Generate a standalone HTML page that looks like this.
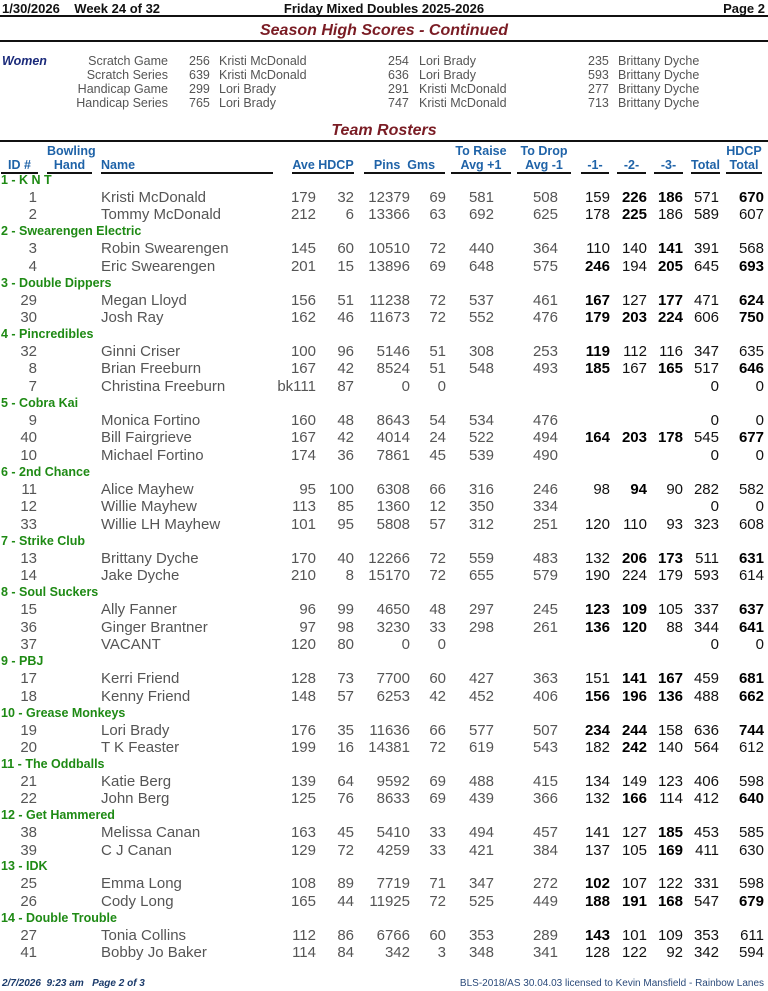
<!DOCTYPE html>
<html><head><meta charset="utf-8">
<style>
*{margin:0;padding:0;box-sizing:border-box}
body{width:768px;height:991px;background:#fff;position:relative;overflow:hidden;font-family:"Liberation Sans",sans-serif}
.a{position:absolute;white-space:nowrap}
.n{font-family:"Liberation Sans Narrow","Liberation Sans",sans-serif}
.hl{position:absolute;height:2px;background:#111}
.t{font-weight:bold;font-style:italic;color:#7a1c24;font-size:16px;width:768px;text-align:center}
.w{font-size:12.5px;color:#555;line-height:14px}
.h{font-family:"Liberation Sans Narrow","Liberation Sans",sans-serif;font-weight:bold;color:#1f63a8;font-size:12.5px;line-height:14px;text-align:center}
.ul{position:absolute;top:172px;height:2px;background:#111}
.tm{position:absolute;left:1px;font-weight:bold;color:#1e8a14;font-size:12.5px;font-family:"Liberation Sans Narrow","Liberation Sans",sans-serif;height:17px;line-height:17px}
.r{position:absolute;left:0;width:768px;height:17px;line-height:17px;font-size:15px;color:#555}
.r span{position:absolute;top:0;left:0;text-align:right}
.r .nm{left:101px;text-align:left}
.r .g{color:#111}
.r b{color:#000}
</style></head><body>
<div class="a n" style="left:2px;top:1px;font-size:13px;font-weight:bold;color:#111">1/30/2026&nbsp;&nbsp;&nbsp;&nbsp;Week 24 of 32</div>
<div class="a n" style="left:0;width:768px;text-align:center;top:1px;font-size:13px;font-weight:bold;color:#111">Friday Mixed Doubles 2025-2026</div>
<div class="a n" style="right:3px;top:1px;font-size:13px;font-weight:bold;color:#111">Page 2</div>
<div class="hl" style="left:0;width:768px;top:15px"></div>
<div class="a t n" style="top:22px">Season High Scores - Continued</div>
<div class="hl" style="left:0;width:768px;top:40px"></div>

<div class="a n" style="left:2px;top:54px;font-size:12.5px;font-weight:bold;font-style:italic;color:#1a2a7a">Women</div>
<div class="a w" style="left:0;width:168px;text-align:right;top:54px">Scratch Game<br>Scratch Series<br>Handicap Game<br>Handicap Series</div>
<div class="a w" style="left:189px;top:54px">256<br>639<br>299<br>765</div>
<div class="a w" style="left:219px;top:54px">Kristi McDonald<br>Kristi McDonald<br>Lori Brady<br>Lori Brady</div>
<div class="a w" style="left:388px;top:54px">254<br>636<br>291<br>747</div>
<div class="a w" style="left:419px;top:54px">Lori Brady<br>Lori Brady<br>Kristi McDonald<br>Kristi McDonald</div>
<div class="a w" style="left:588px;top:54px">235<br>593<br>277<br>713</div>
<div class="a w" style="left:618px;top:54px">Brittany Dyche<br>Brittany Dyche<br>Brittany Dyche<br>Brittany Dyche</div>

<div class="a t n" style="top:122px">Team Rosters</div>
<div class="hl" style="left:0;width:768px;top:140px"></div>

<div class="a h" style="left:1px;width:37px;top:158px">ID #</div>
<div class="a h" style="left:47px;width:45px;top:144px">Bowling<br>Hand</div>
<div class="a h" style="left:101px;top:158px;text-align:left">Name</div>
<div class="a h" style="left:292px;width:62px;top:158px">Ave HDCP</div>
<div class="a h" style="left:364px;width:81px;top:158px">Pins&nbsp; Gms</div>
<div class="a h" style="left:451px;width:60px;top:144px">To Raise<br>Avg +1</div>
<div class="a h" style="left:517px;width:54px;top:144px">To Drop<br>Avg -1</div>
<div class="a h" style="left:581px;width:28px;top:158px">-1-</div>
<div class="a h" style="left:617px;width:29px;top:158px">-2-</div>
<div class="a h" style="left:654px;width:29px;top:158px">-3-</div>
<div class="a h" style="left:691px;width:29px;top:158px">Total</div>
<div class="a h" style="left:726px;width:36px;top:144px">HDCP<br>Total</div>
<div class="ul" style="left:1px;width:37px"></div>
<div class="ul" style="left:47px;width:45px"></div>
<div class="ul" style="left:101px;width:172px"></div>
<div class="ul" style="left:292px;width:62px"></div>
<div class="ul" style="left:364px;width:81px"></div>
<div class="ul" style="left:451px;width:60px"></div>
<div class="ul" style="left:517px;width:54px"></div>
<div class="ul" style="left:581px;width:28px"></div>
<div class="ul" style="left:617px;width:29px"></div>
<div class="ul" style="left:654px;width:29px"></div>
<div class="ul" style="left:691px;width:29px"></div>
<div class="ul" style="left:726px;width:36px"></div>

<style>
.c0{width:37px}.c2{width:316px}.c3{width:354px}.c4{width:410px}.c5{width:446px}.c6{width:494px}.c7{width:558px}
.c8{width:610px}.c9{width:647px}.c10{width:683px}.c11{width:719px}.c12{width:764px}
</style>

<div class="tm" style="top:172px">1 - K N T</div>
<div class="r" style="top:189px"><span class="c0">1</span><span class="nm">Kristi McDonald</span><span class="c2">179</span><span class="c3">32</span><span class="c4">12379</span><span class="c5">69</span><span class="c6">581</span><span class="c7">508</span><span class="c8 g">159</span><span class="c9"><b>226</b></span><span class="c10"><b>186</b></span><span class="c11 g">571</span><span class="c12"><b>670</b></span></div>
<div class="r" style="top:206px"><span class="c0">2</span><span class="nm">Tommy McDonald</span><span class="c2">212</span><span class="c3">6</span><span class="c4">13366</span><span class="c5">63</span><span class="c6">692</span><span class="c7">625</span><span class="c8 g">178</span><span class="c9"><b>225</b></span><span class="c10 g">186</span><span class="c11 g">589</span><span class="c12 g">607</span></div>

<div class="tm" style="top:223px">2 - Swearengen Electric</div>
<div class="r" style="top:240px"><span class="c0">3</span><span class="nm">Robin Swearengen</span><span class="c2">145</span><span class="c3">60</span><span class="c4">10510</span><span class="c5">72</span><span class="c6">440</span><span class="c7">364</span><span class="c8 g">110</span><span class="c9 g">140</span><span class="c10"><b>141</b></span><span class="c11 g">391</span><span class="c12 g">568</span></div>
<div class="r" style="top:258px"><span class="c0">4</span><span class="nm">Eric Swearengen</span><span class="c2">201</span><span class="c3">15</span><span class="c4">13896</span><span class="c5">69</span><span class="c6">648</span><span class="c7">575</span><span class="c8"><b>246</b></span><span class="c9 g">194</span><span class="c10"><b>205</b></span><span class="c11 g">645</span><span class="c12"><b>693</b></span></div>

<div class="tm" style="top:275px">3 - Double Dippers</div>
<div class="r" style="top:292px"><span class="c0">29</span><span class="nm">Megan Lloyd</span><span class="c2">156</span><span class="c3">51</span><span class="c4">11238</span><span class="c5">72</span><span class="c6">537</span><span class="c7">461</span><span class="c8"><b>167</b></span><span class="c9 g">127</span><span class="c10"><b>177</b></span><span class="c11 g">471</span><span class="c12"><b>624</b></span></div>
<div class="r" style="top:309px"><span class="c0">30</span><span class="nm">Josh Ray</span><span class="c2">162</span><span class="c3">46</span><span class="c4">11673</span><span class="c5">72</span><span class="c6">552</span><span class="c7">476</span><span class="c8"><b>179</b></span><span class="c9"><b>203</b></span><span class="c10"><b>224</b></span><span class="c11 g">606</span><span class="c12"><b>750</b></span></div>

<div class="tm" style="top:326px">4 - Pincredibles</div>
<div class="r" style="top:343px"><span class="c0">32</span><span class="nm">Ginni Criser</span><span class="c2">100</span><span class="c3">96</span><span class="c4">5146</span><span class="c5">51</span><span class="c6">308</span><span class="c7">253</span><span class="c8"><b>119</b></span><span class="c9 g">112</span><span class="c10 g">116</span><span class="c11 g">347</span><span class="c12 g">635</span></div>
<div class="r" style="top:360px"><span class="c0">8</span><span class="nm">Brian Freeburn</span><span class="c2">167</span><span class="c3">42</span><span class="c4">8524</span><span class="c5">51</span><span class="c6">548</span><span class="c7">493</span><span class="c8"><b>185</b></span><span class="c9 g">167</span><span class="c10"><b>165</b></span><span class="c11 g">517</span><span class="c12"><b>646</b></span></div>
<div class="r" style="top:378px"><span class="c0">7</span><span class="nm">Christina Freeburn</span><span class="c2">bk111</span><span class="c3">87</span><span class="c4">0</span><span class="c5">0</span><span class="c11 g">0</span><span class="c12 g">0</span></div>

<div class="tm" style="top:395px">5 - Cobra Kai</div>
<div class="r" style="top:412px"><span class="c0">9</span><span class="nm">Monica Fortino</span><span class="c2">160</span><span class="c3">48</span><span class="c4">8643</span><span class="c5">54</span><span class="c6">534</span><span class="c7">476</span><span class="c11 g">0</span><span class="c12 g">0</span></div>
<div class="r" style="top:429px"><span class="c0">40</span><span class="nm">Bill Fairgrieve</span><span class="c2">167</span><span class="c3">42</span><span class="c4">4014</span><span class="c5">24</span><span class="c6">522</span><span class="c7">494</span><span class="c8"><b>164</b></span><span class="c9"><b>203</b></span><span class="c10"><b>178</b></span><span class="c11 g">545</span><span class="c12"><b>677</b></span></div>
<div class="r" style="top:447px"><span class="c0">10</span><span class="nm">Michael Fortino</span><span class="c2">174</span><span class="c3">36</span><span class="c4">7861</span><span class="c5">45</span><span class="c6">539</span><span class="c7">490</span><span class="c11 g">0</span><span class="c12 g">0</span></div>

<div class="tm" style="top:464px">6 - 2nd Chance</div>
<div class="r" style="top:481px"><span class="c0">11</span><span class="nm">Alice Mayhew</span><span class="c2">95</span><span class="c3">100</span><span class="c4">6308</span><span class="c5">66</span><span class="c6">316</span><span class="c7">246</span><span class="c8 g">98</span><span class="c9"><b>94</b></span><span class="c10 g">90</span><span class="c11 g">282</span><span class="c12 g">582</span></div>
<div class="r" style="top:498px"><span class="c0">12</span><span class="nm">Willie Mayhew</span><span class="c2">113</span><span class="c3">85</span><span class="c4">1360</span><span class="c5">12</span><span class="c6">350</span><span class="c7">334</span><span class="c11 g">0</span><span class="c12 g">0</span></div>
<div class="r" style="top:516px"><span class="c0">33</span><span class="nm">Willie LH Mayhew</span><span class="c2">101</span><span class="c3">95</span><span class="c4">5808</span><span class="c5">57</span><span class="c6">312</span><span class="c7">251</span><span class="c8 g">120</span><span class="c9 g">110</span><span class="c10 g">93</span><span class="c11 g">323</span><span class="c12 g">608</span></div>

<div class="tm" style="top:533px">7 - Strike Club</div>
<div class="r" style="top:550px"><span class="c0">13</span><span class="nm">Brittany Dyche</span><span class="c2">170</span><span class="c3">40</span><span class="c4">12266</span><span class="c5">72</span><span class="c6">559</span><span class="c7">483</span><span class="c8 g">132</span><span class="c9"><b>206</b></span><span class="c10"><b>173</b></span><span class="c11 g">511</span><span class="c12"><b>631</b></span></div>
<div class="r" style="top:567px"><span class="c0">14</span><span class="nm">Jake Dyche</span><span class="c2">210</span><span class="c3">8</span><span class="c4">15170</span><span class="c5">72</span><span class="c6">655</span><span class="c7">579</span><span class="c8 g">190</span><span class="c9 g">224</span><span class="c10 g">179</span><span class="c11 g">593</span><span class="c12 g">614</span></div>

<div class="tm" style="top:584px">8 - Soul Suckers</div>
<div class="r" style="top:601px"><span class="c0">15</span><span class="nm">Ally Fanner</span><span class="c2">96</span><span class="c3">99</span><span class="c4">4650</span><span class="c5">48</span><span class="c6">297</span><span class="c7">245</span><span class="c8"><b>123</b></span><span class="c9"><b>109</b></span><span class="c10 g">105</span><span class="c11 g">337</span><span class="c12"><b>637</b></span></div>
<div class="r" style="top:619px"><span class="c0">36</span><span class="nm">Ginger Brantner</span><span class="c2">97</span><span class="c3">98</span><span class="c4">3230</span><span class="c5">33</span><span class="c6">298</span><span class="c7">261</span><span class="c8"><b>136</b></span><span class="c9"><b>120</b></span><span class="c10 g">88</span><span class="c11 g">344</span><span class="c12"><b>641</b></span></div>
<div class="r" style="top:636px"><span class="c0">37</span><span class="nm">VACANT</span><span class="c2">120</span><span class="c3">80</span><span class="c4">0</span><span class="c5">0</span><span class="c11 g">0</span><span class="c12 g">0</span></div>

<div class="tm" style="top:653px">9 - PBJ</div>
<div class="r" style="top:670px"><span class="c0">17</span><span class="nm">Kerri Friend</span><span class="c2">128</span><span class="c3">73</span><span class="c4">7700</span><span class="c5">60</span><span class="c6">427</span><span class="c7">363</span><span class="c8 g">151</span><span class="c9"><b>141</b></span><span class="c10"><b>167</b></span><span class="c11 g">459</span><span class="c12"><b>681</b></span></div>
<div class="r" style="top:688px"><span class="c0">18</span><span class="nm">Kenny Friend</span><span class="c2">148</span><span class="c3">57</span><span class="c4">6253</span><span class="c5">42</span><span class="c6">452</span><span class="c7">406</span><span class="c8"><b>156</b></span><span class="c9"><b>196</b></span><span class="c10"><b>136</b></span><span class="c11 g">488</span><span class="c12"><b>662</b></span></div>

<div class="tm" style="top:705px">10 - Grease Monkeys</div>
<div class="r" style="top:722px"><span class="c0">19</span><span class="nm">Lori Brady</span><span class="c2">176</span><span class="c3">35</span><span class="c4">11636</span><span class="c5">66</span><span class="c6">577</span><span class="c7">507</span><span class="c8"><b>234</b></span><span class="c9"><b>244</b></span><span class="c10 g">158</span><span class="c11 g">636</span><span class="c12"><b>744</b></span></div>
<div class="r" style="top:739px"><span class="c0">20</span><span class="nm">T K Feaster</span><span class="c2">199</span><span class="c3">16</span><span class="c4">14381</span><span class="c5">72</span><span class="c6">619</span><span class="c7">543</span><span class="c8 g">182</span><span class="c9"><b>242</b></span><span class="c10 g">140</span><span class="c11 g">564</span><span class="c12 g">612</span></div>

<div class="tm" style="top:756px">11 - The Oddballs</div>
<div class="r" style="top:773px"><span class="c0">21</span><span class="nm">Katie Berg</span><span class="c2">139</span><span class="c3">64</span><span class="c4">9592</span><span class="c5">69</span><span class="c6">488</span><span class="c7">415</span><span class="c8 g">134</span><span class="c9 g">149</span><span class="c10 g">123</span><span class="c11 g">406</span><span class="c12 g">598</span></div>
<div class="r" style="top:790px"><span class="c0">22</span><span class="nm">John Berg</span><span class="c2">125</span><span class="c3">76</span><span class="c4">8633</span><span class="c5">69</span><span class="c6">439</span><span class="c7">366</span><span class="c8 g">132</span><span class="c9"><b>166</b></span><span class="c10 g">114</span><span class="c11 g">412</span><span class="c12"><b>640</b></span></div>

<div class="tm" style="top:807px">12 - Get Hammered</div>
<div class="r" style="top:824px"><span class="c0">38</span><span class="nm">Melissa Canan</span><span class="c2">163</span><span class="c3">45</span><span class="c4">5410</span><span class="c5">33</span><span class="c6">494</span><span class="c7">457</span><span class="c8 g">141</span><span class="c9 g">127</span><span class="c10"><b>185</b></span><span class="c11 g">453</span><span class="c12 g">585</span></div>
<div class="r" style="top:842px"><span class="c0">39</span><span class="nm">C J Canan</span><span class="c2">129</span><span class="c3">72</span><span class="c4">4259</span><span class="c5">33</span><span class="c6">421</span><span class="c7">384</span><span class="c8 g">137</span><span class="c9 g">105</span><span class="c10"><b>169</b></span><span class="c11 g">411</span><span class="c12 g">630</span></div>

<div class="tm" style="top:858px">13 - IDK</div>
<div class="r" style="top:875px"><span class="c0">25</span><span class="nm">Emma Long</span><span class="c2">108</span><span class="c3">89</span><span class="c4">7719</span><span class="c5">71</span><span class="c6">347</span><span class="c7">272</span><span class="c8"><b>102</b></span><span class="c9 g">107</span><span class="c10 g">122</span><span class="c11 g">331</span><span class="c12 g">598</span></div>
<div class="r" style="top:893px"><span class="c0">26</span><span class="nm">Cody Long</span><span class="c2">165</span><span class="c3">44</span><span class="c4">11925</span><span class="c5">72</span><span class="c6">525</span><span class="c7">449</span><span class="c8"><b>188</b></span><span class="c9"><b>191</b></span><span class="c10"><b>168</b></span><span class="c11 g">547</span><span class="c12"><b>679</b></span></div>

<div class="tm" style="top:910px">14 - Double Trouble</div>
<div class="r" style="top:927px"><span class="c0">27</span><span class="nm">Tonia Collins</span><span class="c2">112</span><span class="c3">86</span><span class="c4">6766</span><span class="c5">60</span><span class="c6">353</span><span class="c7">289</span><span class="c8"><b>143</b></span><span class="c9 g">101</span><span class="c10 g">109</span><span class="c11 g">353</span><span class="c12 g">611</span></div>
<div class="r" style="top:944px"><span class="c0">41</span><span class="nm">Bobby Jo Baker</span><span class="c2">114</span><span class="c3">84</span><span class="c4">342</span><span class="c5">3</span><span class="c6">348</span><span class="c7">341</span><span class="c8 g">128</span><span class="c9 g">122</span><span class="c10 g">92</span><span class="c11 g">342</span><span class="c12 g">594</span></div>

<div class="a n" style="left:2px;top:978px;font-size:10px;font-weight:bold;font-style:italic;color:#1a3a6a">2/7/2026&nbsp; 9:23 am&nbsp;&nbsp; Page 2 of 3</div>
<div class="a n" style="right:4px;top:978px;font-size:10px;color:#2a4a7a">BLS-2018/AS 30.04.03 licensed to Kevin Mansfield - Rainbow Lanes</div>
</body></html>
